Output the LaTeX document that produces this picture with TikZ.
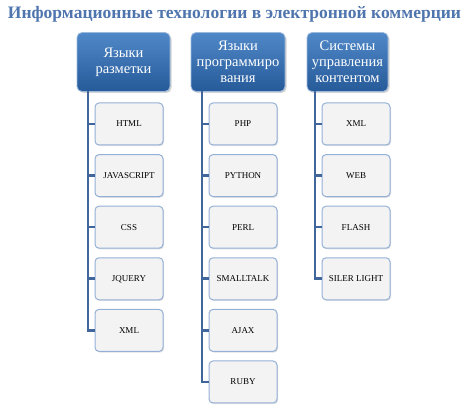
\documentclass[tikz,border=0pt]{standalone}
\usepackage{fontspec}
\setmainfont{Liberation Serif}
\usetikzlibrary{shadows}
\definecolor{titleblue}{HTML}{4F75AE}
\definecolor{hdtop}{HTML}{5088C8}
\definecolor{hdbot}{HTML}{265A99}
\definecolor{hdborder}{HTML}{9DB9DE}
\definecolor{conncol}{HTML}{41669C}
\definecolor{childborder}{HTML}{95B0D6}
\definecolor{childfill}{HTML}{F3F3F4}
\tikzset{
  x=1pt,y=-1pt,
  header/.style={rounded corners=5pt, top color=hdtop, bottom color=hdbot, draw=hdborder, line width=0.8pt,
    minimum height=59pt, text=white, align=center, font=\fontsize{14.5}{16}\selectfont, inner sep=0pt,
    drop shadow={opacity=0.35, shadow xshift=1.5pt, shadow yshift=-1.5pt}},
  child/.style={rounded corners=4pt, fill=childfill, draw=childborder, line width=1pt,
    minimum width=68pt, minimum height=42pt, inner sep=0pt, font=\fontsize{9}{10}\selectfont,
    drop shadow={opacity=0.25, shadow xshift=1pt, shadow yshift=-1.2pt}},
  conn/.style={draw=conncol, line width=2.6pt},
}
\begin{document}
\begin{tikzpicture}
\useasboundingbox (0,0) rectangle (469,411);
\node[font=\bfseries\fontsize{17.5}{20}\selectfont, text=titleblue] (title) at (234.5,14) {Информационные технологии в электронной коммерции};

\node[header, minimum width=93pt] (h1) at (123.5,62) {Языки\\разметки};
\node[header, minimum width=94pt] (h2) at (238,62) {Языки\\программиро\\вания};
\node[header, minimum width=81pt] (h3) at (347.5,62) {Системы\\управления\\контентом};

\coordinate (v1) at (88,91);
\coordinate (v2) at (202,91);
\coordinate (v3) at (315,91);

% column 1
\node[child] (a1) at (129,124) {HTML};
\node[child] (a2) at (129,175.6) {JAVASCRIPT};
\node[child] (a3) at (129,227.2) {CSS};
\node[child] (a4) at (129,278.8) {JQUERY};
\node[child] (a5) at (129,330.4) {XML};
% column 2
\node[child] (b1) at (243,124) {PHP};
\node[child] (b2) at (243,175.6) {PYTHON};
\node[child] (b3) at (243,227.2) {PERL};
\node[child] (b4) at (243,278.8) {SMALLTALK};
\node[child] (b5) at (243,330.4) {AJAX};
\node[child] (b6) at (243,382) {RUBY};
% column 3
\node[child] (c1) at (356,124) {XML};
\node[child] (c2) at (356,175.6) {WEB};
\node[child] (c3) at (356,227.2) {FLASH};
\node[child] (c4) at (356,278.8) {SILER LIGHT};

\draw[conn] (v1) |- (a5.west);
\foreach \n in {a1,a2,a3,a4} \draw[conn] (v1 |- \n.west) -- (\n.west);
\draw[conn] (v2) |- (b6.west);
\foreach \n in {b1,b2,b3,b4,b5} \draw[conn] (v2 |- \n.west) -- (\n.west);
\draw[conn] (v3) |- (c4.west);
\foreach \n in {c1,c2,c3} \draw[conn] (v3 |- \n.west) -- (\n.west);
\end{tikzpicture}
\end{document}
